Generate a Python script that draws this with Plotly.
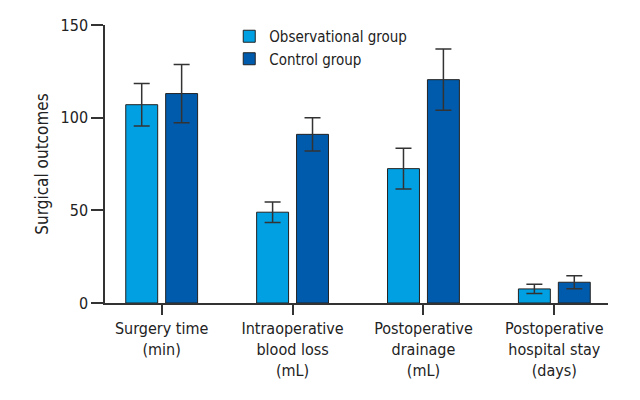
import plotly.graph_objects as go

# surgical outcomes, mean and SD
categories = ["Surgery time<br>(min)", "Intraoperative<br>blood loss<br>(mL)",
              "Postoperative<br>drainage<br>(mL)", "Postoperative<br>hospital stay<br>(days)"]
obs_mean = [107, 49, 72.5, 7.6]
obs_sd = [11.5, 5.5, 11, 2.5]
ctrl_mean = [113, 91, 120.5, 11.2]
ctrl_sd = [15.7, 9, 16.5, 3.5]
y_ticks = [0, 50, 100, 150]

FONT = "DejaVu Sans Condensed, Liberation Sans Narrow, sans-serif"
err_style = dict(type="data", visible=True, color="#333333", thickness=1.5, width=8)

fig = go.Figure()
fig.add_trace(go.Bar(x=categories, y=obs_mean, name="Observational group",
                     error_y=dict(array=obs_sd, **err_style),
                     marker=dict(color="#00A0E3", line=dict(color="#222222", width=1))))
fig.add_trace(go.Bar(x=categories, y=ctrl_mean, name="Control group",
                     error_y=dict(array=ctrl_sd, **err_style),
                     marker=dict(color="#005BAC", line=dict(color="#222222", width=1))))

# page is drawn with an 8px body margin, so margins are trimmed to match
fig.update_layout(
    width=640, height=400,
    margin=dict(l=97, r=40, t=17, b=105, autoexpand=False),
    plot_bgcolor="white", paper_bgcolor="white",
    barmode="group", bargap=0.39, bargroupgap=0.2,
    font=dict(family=FONT, size=16, color="#222222"),
    showlegend=True,
    legend=dict(x=0.247, y=1.018, xanchor="left", yanchor="top",
                bgcolor="rgba(0,0,0,0)", font=dict(size=15),
                itemwidth=30, tracegroupgap=0),
    xaxis=dict(range=[-0.433, 3.41], showline=True, linecolor="#333333", linewidth=1.5,
               ticks="outside", ticklen=10, tickcolor="#333333", tickwidth=1.5,
               showgrid=False, zeroline=False),
    yaxis=dict(range=[0, 150], tickvals=y_ticks, showline=True, linecolor="#333333",
               linewidth=1.5, ticks="outside", ticklen=12, tickcolor="#333333", tickwidth=1.5,
               showgrid=False, zeroline=False,
               title=dict(text="Surgical outcomes", standoff=8, font=dict(size=17))),
)

fig.write_html("out.html")
